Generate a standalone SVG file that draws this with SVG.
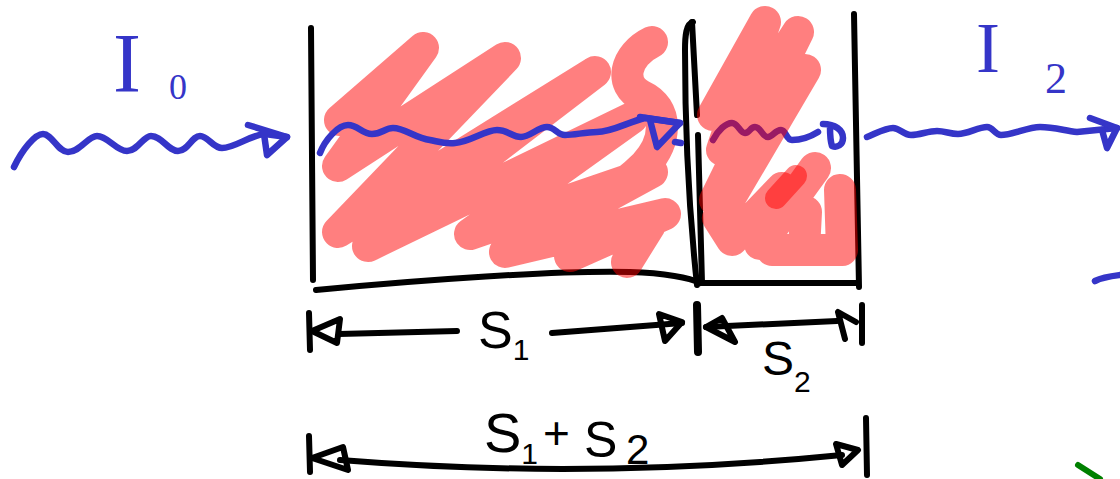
<svg xmlns="http://www.w3.org/2000/svg" width="1120" height="479" viewBox="0 0 1120 479">
<style>
.k{fill:none;stroke:#000;stroke-width:6;stroke-linecap:round;stroke-linejoin:round}
.b{fill:none;stroke:#3535c8;stroke-width:6.5;stroke-linecap:round;stroke-linejoin:round}
.r{fill:none;stroke:#ff0000;stroke-opacity:0.5;stroke-width:32;stroke-linecap:round;stroke-linejoin:round}
.lb{fill:#3535c8;font-family:"Liberation Serif",serif}
.lk{fill:#000;font-family:"Liberation Sans",sans-serif}
</style>
<rect width="1120" height="479" fill="#fff"/>
<g id="slab1">
<path class="k" d="M311,28 C312,100 312,200 313,280"/>
<path class="k" d="M316,290 C420,280 560,270 630,272 C665,273 690,278 700,283"/>
<path class="k" d="M693,22 C686,24 685,35 685,50 C685,130 690,220 697,285"/>
<path class="r" d="M340,120 L423,48 L338,166 L505,58 L338,232 L595,72 L368,246 L632,118 L470,234 L652,172 L505,252 L665,214 L570,256 M627,262 L650,225 M652,42 C625,55 618,85 642,96 C668,108 668,140 645,165 C620,190 580,215 530,240"/>
</g>
<g id="slab2">
<path class="k" d="M692,22 L697,115 M698,135 L702,283"/>
<path class="k" d="M703,283 L858,283"/>
<path class="k" d="M854,14 C856,100 857,200 859,287"/>
</g>
<g id="connectors">
<path class="b" d="M14,167 C22,150 35,134 43,134 C52,134 58,152 68,152 C80,152 88,136 97,136 C108,136 116,151 127,151 C138,151 143,136 151,136 C162,136 168,151 178,151 C188,151 192,136 200,136 C208,136 213,148 222,148 C235,148 250,135 265,134 L287,137"/>
<path class="b" d="M248,125 L287,137 L267,155 L264,134"/>
<path class="b" d="M320,153 C325,140 338,125 348,125 C358,125 362,134 372,134 C382,134 385,128 393,128 C405,128 415,138 430,140 C440,142 445,144 455,143 C470,142 485,130 497,130 C508,130 512,137 521,137 C530,137 538,127 547,127 C555,127 557,135 565,135 C575,135 585,132 597,132 C612,132 628,122 645,118 L680,123"/>
<path class="b" d="M640,117 L680,123 L657,147 L650,120 M675,142 L681,143"/>
<path class="b" d="M713,140 C718,130 726,123 732,123 C738,123 740,133 745,133 C750,133 750,127 755,127 C761,127 762,137 768,137 C773,137 775,130 781,130 C786,130 786,140 792,140 C800,140 810,137 818,132"/>
<path class="b" d="M823,124 C835,124 843,130 843,138 C843,145 837,148 832,146 C830,140 830,132 830,127"/>
<path class="b" d="M867,137 C875,134 885,128 893,128 C900,128 903,135 911,135 C920,135 928,131 937,131 C945,131 950,134 958,134 C968,134 978,127 987,127 C993,127 995,135 1001,135 C1012,135 1028,127 1040,127 C1055,127 1065,131 1077,132 L1117,128"/>
<path class="b" d="M1090,118 L1117,128 L1107,148 L1102,130"/>
<path class="b" d="M1095,281 C1103,277 1112,276 1120,275"/>
<path d="M1078,465 L1100,479" fill="none" stroke="#008000" stroke-width="6" stroke-linecap="round"/>
<path class="k" d="M309,313 L310,350 M339,334 L457,331 M552,333 L682,323 M706,327 L837,321"/>
<path class="k" d="M312,331 L340,319 L337,343 Z M682,322 L659,314 L665,341 Z M706,327 L722,318 L735,342 Z M856,322 L838,312 L845,339"/>
<path class="k" style="stroke-width:8" d="M697,305 L698,352"/>
<path class="k" d="M862,305 L862,343"/>
<path class="k" d="M309,436 L310,472 M866,418 L867,475"/>
<path class="k" d="M312,458 L343,447 L348,470 Z M858,450 L836,444 L842,465 Z"/>
<path class="k" d="M340,460 Q590,480 842,455"/>
</g>
<path class="r" d="M713,115 L765,22 L722,150 L798,32 L715,200 L805,70 L718,218 L732,240 L782,188 M760,244 L815,168 M806,212 L804,250 M840,190 L842,250 L772,250"/>
<path class="r" style="stroke-width:22" d="M776,198 L796,176"/>
<g id="labels">
<text class="lb" x="127" y="92" font-size="84" text-anchor="middle">I</text>
<text class="lb" x="178" y="99" font-size="36" text-anchor="middle">0</text>
<text class="lb" x="988" y="72" font-size="72" text-anchor="middle">I</text>
<text class="lb" x="1056" y="93" font-size="44" text-anchor="middle">2</text>
<text class="lk" x="478" y="348" font-size="52">S<tspan font-size="30" dy="12">1</tspan></text>
<text class="lk" x="762" y="375" font-size="48">S<tspan font-size="30" dy="17">2</tspan></text>
<text class="lk" x="484" y="452" font-size="56">S<tspan font-size="30" dy="12">1</tspan><tspan font-size="46" x="543" dy="-15">+</tspan><tspan font-size="50" x="584" dy="8">S</tspan><tspan font-size="42" x="626" dy="7">2</tspan></text>
</g>
</svg>
